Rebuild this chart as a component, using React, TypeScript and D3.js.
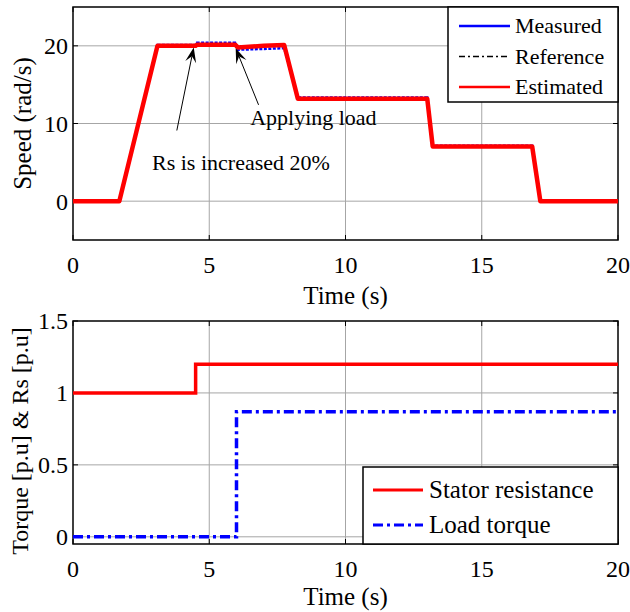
import * as d3 from "d3"

// speed plot (top)
const speedTime = [0, 1.7, 3.1, 4.5, 4.55, 5.95, 6.05, 7.0, 7.75, 8.25, 13.0, 13.2, 16.85, 17.15, 20]
const speedReference = [0, 0, 20, 20, 20, 20, 20, 20, 20, 13.3, 13.3, 7.1, 7.1, 0, 0]
const speedMeasured = [0, 0, 20.1, 20.1, 20.4, 20.4, 19.5, 19.6, 19.7, 13.35, 13.35, 7.15, 7.15, 0, 0]
const speedEstimated = [0, 0, 20.0, 20.0, 20.15, 20.15, 19.8, 20.0, 20.1, 13.2, 13.2, 7.05, 7.05, 0, 0]

// torque / stator resistance plot (bottom)
const rsTime = [0, 4.5, 20]
const rsValue = [1, 1.2, 1.2]
const loadTime = [0, 6, 20]
const loadValue = [0, 0.87, 0.87]

const xTicks = [0, 5, 10, 15, 20]
const speedTicks = [0, 10, 20]
const torqueTicks = [0, 0.5, 1, 1.5]
const torqueTickLabels = ["0", "0.5", "1", "1.5"]

const font = "Liberation Serif, serif"
const gridColor = "#a6a6a6"

type Pt = [number, number]
const zip = (t: number[], v: number[]): Pt[] => t.map((d, i) => [d, v[i]])

function Frame({ x, y, xt, yt, yLabels }: any) {
    const [x0, x1] = x.range()
    const [y0, y1] = y.range()
    const tick = 5
    return (
        <g>
            {xt.slice(1, -1).map((t: number) => (
                <line key={"gx" + t} x1={x(t)} x2={x(t)} y1={y0} y2={y1} stroke={gridColor} strokeWidth={1} />
            ))}
            {yt.map((t: number) =>
                y(t) > y1 + 1 && y(t) < y0 - 1 ? (
                    <line key={"gy" + t} x1={x0} x2={x1} y1={y(t)} y2={y(t)} stroke={gridColor} strokeWidth={1} />
                ) : null
            )}
            {xt.map((t: number) => (
                <g key={"tx" + t}>
                    <line x1={x(t)} x2={x(t)} y1={y0} y2={y0 - tick} stroke="#000" />
                    <line x1={x(t)} x2={x(t)} y1={y1} y2={y1 + tick} stroke="#000" />
                    <text x={x(t)} y={y0 + 33} textAnchor="middle" fontSize={24} fontFamily={font}>
                        {t}
                    </text>
                </g>
            ))}
            {yt.map((t: number, i: number) => (
                <g key={"ty" + t}>
                    <line x1={x0} x2={x0 + tick} y1={y(t)} y2={y(t)} stroke="#000" />
                    <line x1={x1} x2={x1 - tick} y1={y(t)} y2={y(t)} stroke="#000" />
                    <text x={x0 - 5} y={y(t)} dy="0.35em" textAnchor="end" fontSize={24} fontFamily={font}>
                        {yLabels ? yLabels[i] : t}
                    </text>
                </g>
            ))}
            <rect x={x0} y={y1} width={x1 - x0} height={y0 - y1} fill="none" stroke="#000" strokeWidth={1.5} />
        </g>
    )
}

function Arrow({ x1, y1, x2, y2 }: any) {
    const a = Math.atan2(y2 - y1, x2 - x1)
    const L = 15
    const W = 5.5
    const bx = x2 - L * Math.cos(a)
    const by = y2 - L * Math.sin(a)
    const nx = -Math.sin(a)
    const ny = Math.cos(a)
    const mx = x2 - L * 0.6 * Math.cos(a)
    const my = y2 - L * 0.6 * Math.sin(a)
    const head = `M${x2},${y2} L${bx + nx * W},${by + ny * W} L${mx},${my} L${bx - nx * W},${by - ny * W} Z`
    return (
        <g>
            <line x1={x1} y1={y1} x2={mx} y2={my} stroke="#000" strokeWidth={1} />
            <path d={head} fill="#000" />
        </g>
    )
}

export default function App() {
    const width = 630
    const height = 612
    const left = 73
    const right = 618

    const x = d3.scaleLinear().domain([0, 20]).range([left, right])
    const ySpeed = d3.scaleLinear().domain([-5, 25]).range([240, 7])
    const yTorque = d3.scaleLinear().domain([-0.05, 1.5]).range([544, 321])

    const speedLine = d3.line<Pt>().x((d) => x(d[0])).y((d) => ySpeed(d[1]))
    const stepLine = d3.line<Pt>().x((d) => x(d[0])).y((d) => yTorque(d[1])).curve(d3.curveStepAfter)

    const refDash = "6,3,2,3"
    const loadDash = "10,4,3,4"

    return (
        <svg
            width={width}
            height={height}
            style={{ position: "absolute", left: 0, top: 0, background: "#fff" }}
        >
            <rect width={width} height={height} fill="#fff" />

            {/* Top: speed */}
            <Frame x={x} y={ySpeed} xt={xTicks} yt={speedTicks} />
            <path d={speedLine(zip(speedTime, speedMeasured)) || ""} fill="none" stroke="#0000ff" strokeWidth={2.5} strokeDasharray="3,1.5" />
            <path d={speedLine(zip(speedTime, speedReference)) || ""} fill="none" stroke="#000" strokeWidth={1.5} strokeDasharray={refDash} />
            <path d={speedLine(zip(speedTime, speedEstimated)) || ""} fill="none" stroke="#ff0000" strokeWidth={4.5} strokeLinejoin="round" />

            <Arrow x1={x(3.81)} y1={ySpeed(9.1)} x2={x(4.43)} y2={ySpeed(19.8)} />
            <Arrow x1={x(6.81)} y1={ySpeed(12.4)} x2={x(5.97)} y2={ySpeed(19.7)} />
            <text x={x(6.5)} y={ySpeed(9.8)} fontSize={22} fontFamily={font}>Applying load</text>
            <text x={x(2.9)} y={ySpeed(4.0)} fontSize={22} fontFamily={font}>Rs is increased 20%</text>

            <g>
                <rect x={448} y={7} width={right - 448} height={95} fill="#fff" stroke="#000" strokeWidth={1.5} />
                {[
                    { label: "Measured", color: "#0000ff", w: 2.5, dash: undefined },
                    { label: "Reference", color: "#000", w: 1.5, dash: refDash },
                    { label: "Estimated", color: "#ff0000", w: 2.5, dash: undefined },
                ].map((d, i) => (
                    <g key={d.label} transform={`translate(0,${26 + i * 30.5})`}>
                        <line x1={459} x2={510} stroke={d.color} strokeWidth={d.w} strokeDasharray={d.dash} />
                        <text x={515} y={0} dy="0.33em" fontSize={22} fontFamily={font}>{d.label}</text>
                    </g>
                ))}
            </g>

            <text x={x(10)} y={304} textAnchor="middle" fontSize={25} fontFamily={font}>Time (s)</text>
            <text transform={`translate(31,${ySpeed(10)}) rotate(-90)`} textAnchor="middle" fontSize={25} fontFamily={font}>Speed (rad/s)</text>

            {/* Bottom: torque & Rs */}
            <Frame x={x} y={yTorque} xt={xTicks} yt={torqueTicks} yLabels={torqueTickLabels} />
            <path d={stepLine(zip(rsTime, rsValue)) || ""} fill="none" stroke="#ff0000" strokeWidth={3.5} />
            <path d={stepLine(zip(loadTime, loadValue)) || ""} fill="none" stroke="#0000ff" strokeWidth={3.5} strokeDasharray={loadDash} />

            <g>
                <rect x={363} y={467} width={right - 363} height={544 - 467} fill="#fff" stroke="#000" strokeWidth={1.5} />
                {[
                    { label: "Stator resistance", color: "#ff0000", dash: undefined },
                    { label: "Load torque", color: "#0000ff", dash: loadDash },
                ].map((d, i) => (
                    <g key={d.label} transform={`translate(0,${490 + i * 35})`}>
                        <line x1={373} x2={423} stroke={d.color} strokeWidth={3} strokeDasharray={d.dash} />
                        <text x={429} y={0} dy="0.33em" fontSize={25} fontFamily={font}>{d.label}</text>
                    </g>
                ))}
            </g>

            <text x={x(10)} y={605} textAnchor="middle" fontSize={25} fontFamily={font}>Time (s)</text>
            <text transform={`translate(28,441) rotate(-90)`} textAnchor="middle" fontSize={24} fontFamily={font}>Torque [p.u] &amp; Rs [p.u]</text>
        </svg>
    )
}
